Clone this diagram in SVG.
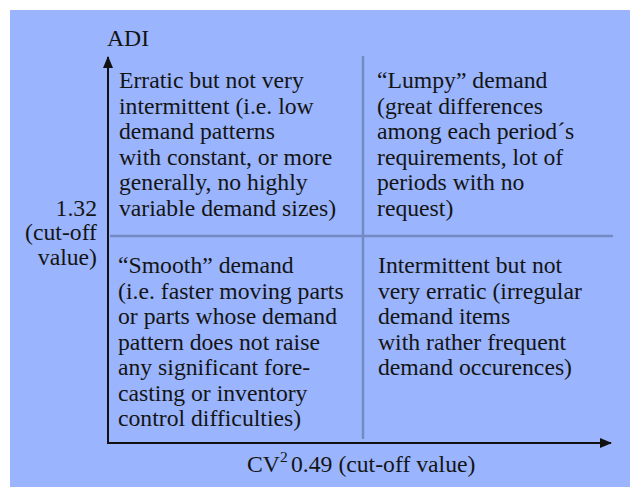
<svg xmlns="http://www.w3.org/2000/svg" width="630" height="487" viewBox="0 0 630 487">
<style>
.t{font-family:"Liberation Serif","Times New Roman",serif;font-size:23.7px;fill:#141414}
.ax{stroke:#111;stroke-width:2;fill:none}
.dv{stroke:#7589c2;stroke-width:2.5;fill:none}
</style>
<defs>
<marker id="ah" viewBox="0 0 12 10" refX="11" refY="5" markerWidth="12" markerHeight="10" markerUnits="userSpaceOnUse" orient="auto">
<path d="M0,0 L12,5 L0,10 Z" fill="#111"/>
</marker>
</defs>
<rect x="10" y="10" width="620" height="477" fill="#9ab4fe"/>
<g id="dividers">
<line class="dv" x1="363" y1="56" x2="363" y2="439"/>
<line class="dv" x1="110" y1="236" x2="613" y2="236"/>
</g>
<g id="connectors">
<line class="ax" x1="108" y1="443" x2="108" y2="57" marker-end="url(#ah)"/>
<line class="ax" x1="107" y1="443" x2="611" y2="443" marker-end="url(#ah)"/>
</g>
<g id="axis-labels">
<text class="t" x="107" y="46">ADI</text>
<text class="t" x="97" y="215.5" text-anchor="end">1.32</text>
<text class="t" x="97" y="240" text-anchor="end">(cut-off</text>
<text class="t" x="97" y="264.5" text-anchor="end">value)</text>
<text class="t" x="247" y="472">CV<tspan dy="-10" font-size="15.5">2</tspan><tspan dy="10" x="291">0.49 (cut-off value)</tspan></text>
</g>
<g id="q-top-left">
<text class="t"><tspan x="119" y="88">Erratic but not very</tspan><tspan x="119" y="113.5">intermittent (i.e. low</tspan><tspan x="119" y="139">demand patterns</tspan><tspan x="119" y="164.5">with constant, or more</tspan><tspan x="119" y="190">generally, no highly</tspan><tspan x="119" y="215.5">variable demand sizes)</tspan></text>
</g>
<g id="q-top-right">
<text class="t"><tspan x="377" y="88">“Lumpy” demand</tspan><tspan x="377" y="113.5">(great differences</tspan><tspan x="377" y="139">among each period´s</tspan><tspan x="377" y="164.5">requirements, lot of</tspan><tspan x="377" y="190">periods with no</tspan><tspan x="377" y="215.5">request)</tspan></text>
</g>
<g id="q-bottom-left">
<text class="t"><tspan x="118" y="273">“Smooth” demand</tspan><tspan x="118" y="298.5">(i.e. faster moving parts</tspan><tspan x="118" y="324">or parts whose demand</tspan><tspan x="118" y="349.5">pattern does not raise</tspan><tspan x="118" y="375">any significant fore-</tspan><tspan x="118" y="400.5">casting or inventory</tspan><tspan x="118" y="426">control difficulties)</tspan></text>
</g>
<g id="q-bottom-right">
<text class="t"><tspan x="378" y="273">Intermittent but not</tspan><tspan x="378" y="298.5">very erratic (irregular</tspan><tspan x="378" y="324">demand items</tspan><tspan x="378" y="349.5">with rather frequent</tspan><tspan x="378" y="375">demand occurences)</tspan></text>
</g>
</svg>
